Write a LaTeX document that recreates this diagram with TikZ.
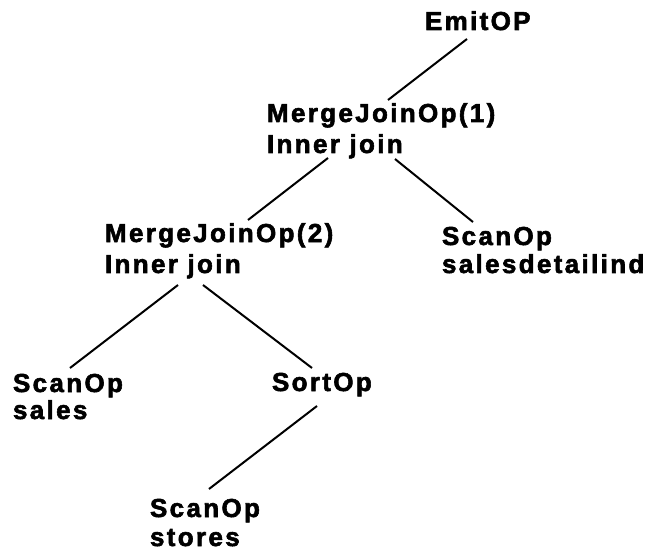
\documentclass[tikz,border=0pt]{standalone}
\usepackage{fontspec}
\usetikzlibrary{calc}
\newfontfamily\opfamily[LetterSpace=9,FakeBold=2.2]{Liberation Sans Bold}
\newcommand\opfont{\opfamily\fontsize{26}{31}\selectfont}
% two stacked lines; the node baseline is the first line's baseline
\newcommand\twolines[3]{\vtop{\baselineskip=#1pt\hbox{#2}\hbox{#3}}}
\tikzset{
  opname/.style={anchor=base west, inner sep=0pt, outer sep=0pt, font=\opfont},
  link/.style={line width=2pt, line cap=butt}
}
\begin{document}
\begin{tikzpicture}[x=1pt, y=-1pt]
\useasboundingbox (0,0) rectangle (649,551);
\fill[white] (0,0) rectangle (649,551);

% operator nodes
\node[opname] (emit)   at (425,30)  {EmitOP};
\node[opname] (mj1)    at (267,122) {\twolines{31}{MergeJoinOp(1)}{Inner join}};
\node[opname] (mj2)    at (105,242) {\twolines{31}{MergeJoinOp(2)}{Inner join}};
\node[opname] (sdi)    at (442,245) {\twolines{28}{ScanOp}{salesdetailind}};
\node[opname] (sales)  at (13,392)  {\twolines{27}{ScanOp}{sales}};
\node[opname] (sort)   at (272,391) {SortOp};
\node[opname] (stores) at (150,517) {\twolines{29}{ScanOp}{stores}};

% plan edges
\draw[link] ($(emit.base west)+(42,9)$)  -- ($(mj1.base west)+(121,-22)$);
\draw[link] ($(mj1.base west)+(61,36)$)  -- ($(mj2.base west)+(143,-22)$);
\draw[link] ($(mj1.base west)+(128,37)$) -- ($(sdi.base west)+(31,-23)$);
\draw[link] ($(mj2.base west)+(73,43)$)  -- ($(sales.base west)+(57,-24)$);
\draw[link] ($(mj2.base west)+(98,43)$)  -- ($(sort.base west)+(40,-23)$);
\draw[link] ($(sort.base west)+(45,15)$) -- ($(stores.base west)+(59,-28)$);
\end{tikzpicture}
\end{document}
